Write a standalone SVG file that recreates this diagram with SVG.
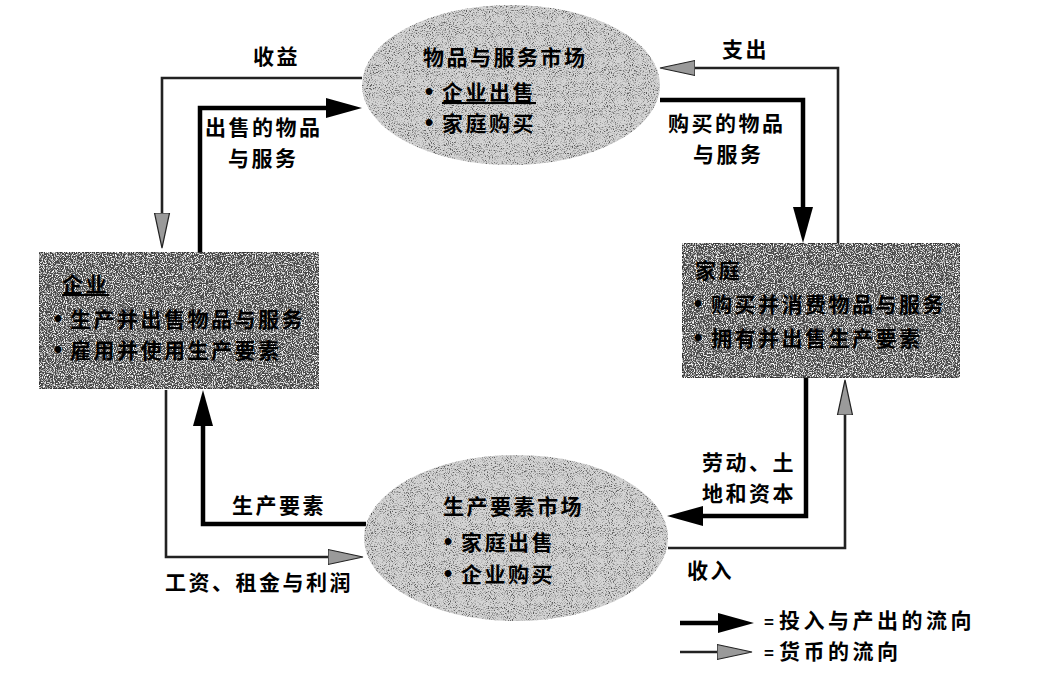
<svg xmlns="http://www.w3.org/2000/svg" width="1057" height="700" viewBox="0 0 1057 700">
<defs>
<style>
text{font-family:"Noto Sans CJK SC","Noto Sans",sans-serif;font-weight:bold;font-size:21px;letter-spacing:2.5px;fill:#000}
.b{font-family:"Liberation Sans",sans-serif;font-size:23px;letter-spacing:0}
.eq{font-family:"Liberation Sans",sans-serif;font-size:17px;letter-spacing:0}
.lg{letter-spacing:3.5px}
.thick{fill:none;stroke:#000;stroke-width:4.5}
.money{fill:none;stroke:#222;stroke-width:2.6}
</style>
<filter id="speckDark" x="0" y="0" width="1" height="1">
<feTurbulence type="fractalNoise" baseFrequency="0.9" numOctaves="2" seed="4" result="n"/>
<feColorMatrix in="n" type="matrix" values="0 0 0 0 1  0 0 0 0 1  0 0 0 0 1  4 0 0 0 -1.9" result="w"/>
<feComposite in="w" in2="SourceGraphic" operator="atop"/>
</filter>
<filter id="speckLight" x="0" y="0" width="1" height="1">
<feTurbulence type="fractalNoise" baseFrequency="0.95" numOctaves="2" seed="7" result="n"/>
<feColorMatrix in="n" type="matrix" values="0 0 0 0 0.1  0 0 0 0 0.1  0 0 0 0 0.1  4 0 0 0 -1.95" result="d"/>
<feComposite in="d" in2="SourceGraphic" operator="atop"/>
</filter>
<marker id="headThick" markerUnits="userSpaceOnUse" markerWidth="40" markerHeight="24" refX="4" refY="11" orient="auto">
<path d="M0,1 L36,11 L0,21 z" fill="#000"/>
</marker>
<marker id="headMoney" markerUnits="userSpaceOnUse" markerWidth="40" markerHeight="20" refX="4" refY="9" orient="auto">
<path d="M0,1.5 L35,9 L0,16.5 z" fill="#9a9a9a" stroke="#222" stroke-width="1.2"/>
</marker>
</defs>
<rect width="1057" height="700" fill="#fff"/>

<g id="connectors">
<path id="c-shouyi" class="money" d="M362,78 H162 V217" marker-end="url(#headMoney)"/>
<path id="c-chushou" class="thick" d="M200,252 V108 H330" marker-end="url(#headThick)"/>
<path id="c-zhichu" class="money" d="M838,243 V68 H691" marker-end="url(#headMoney)"/>
<path id="c-goumai" class="thick" d="M660,100 H803 V211" marker-end="url(#headThick)"/>
<path id="c-shengchan" class="thick" d="M366,524 H203 V422" marker-end="url(#headThick)"/>
<path id="c-gongzi" class="money" d="M166,390 V557 H332" marker-end="url(#headMoney)"/>
<path id="c-laodong" class="thick" d="M806,378 V516 H699" marker-end="url(#headThick)"/>
<path id="c-shouru" class="money" d="M668,548 H845 V411" marker-end="url(#headMoney)"/>
<text x="253" y="64">收益</text>
<text x="205" y="135">出售的物品</text>
<text x="228" y="166">与服务</text>
<text x="722" y="57">支出</text>
<text x="668" y="131">购买的物品</text>
<text x="693" y="162">与服务</text>
<text x="232" y="513">生产要素</text>
<text x="165" y="590">工资、租金与利润</text>
<text x="702" y="470">劳动、土</text>
<text x="702" y="501">地和资本</text>
<text x="687" y="578">收入</text>
</g>

<g id="goods-market">
<ellipse cx="511" cy="85" rx="149" ry="80" fill="#d4d4d4" filter="url(#speckLight)"/>
<text x="423" y="65">物品与服务市场</text>
<text y="100"><tspan class="b" x="425">•</tspan><tspan x="442" text-decoration="underline">企业出售</tspan></text>
<text y="131"><tspan class="b" x="425">•</tspan><tspan x="442">家庭购买</tspan></text>
</g>

<g id="factor-market">
<ellipse cx="516" cy="538" rx="152" ry="83" fill="#d4d4d4" filter="url(#speckLight)"/>
<text x="443" y="514">生产要素市场</text>
<text y="550"><tspan class="b" x="444">•</tspan><tspan x="461">家庭出售</tspan></text>
<text y="582"><tspan class="b" x="444">•</tspan><tspan x="461">企业购买</tspan></text>
</g>

<g id="firms">
<rect x="39" y="252" width="280" height="137" fill="#4a4a4a" stroke="#222" stroke-width="1" filter="url(#speckDark)"/>
<text x="62" y="292"><tspan text-decoration="underline">企业</tspan></text>
<text y="327"><tspan class="b" x="54">•</tspan><tspan x="70">生产并出售物品与服务</tspan></text>
<text y="358"><tspan class="b" x="54">•</tspan><tspan x="70">雇用并使用生产要素</tspan></text>
</g>

<g id="households">
<rect x="682" y="243" width="278" height="135" fill="#4a4a4a" stroke="#222" stroke-width="1" filter="url(#speckDark)"/>
<text x="695" y="278">家庭</text>
<text y="312"><tspan class="b" x="694">•</tspan><tspan x="711">购买并消费物品与服务</tspan></text>
<text y="346"><tspan class="b" x="694">•</tspan><tspan x="711">拥有并出售生产要素</tspan></text>
</g>

<g id="legend">
<path class="thick" d="M680,623 H722" marker-end="url(#headThick)"/>
<path class="money" d="M680,652 H721" marker-end="url(#headMoney)"/>
<text class="lg" y="628"><tspan class="eq" x="764">=</tspan><tspan x="779">投入与产出的流向</tspan></text>
<text class="lg" y="659"><tspan class="eq" x="764">=</tspan><tspan x="779">货币的流向</tspan></text>
</g>
</svg>
